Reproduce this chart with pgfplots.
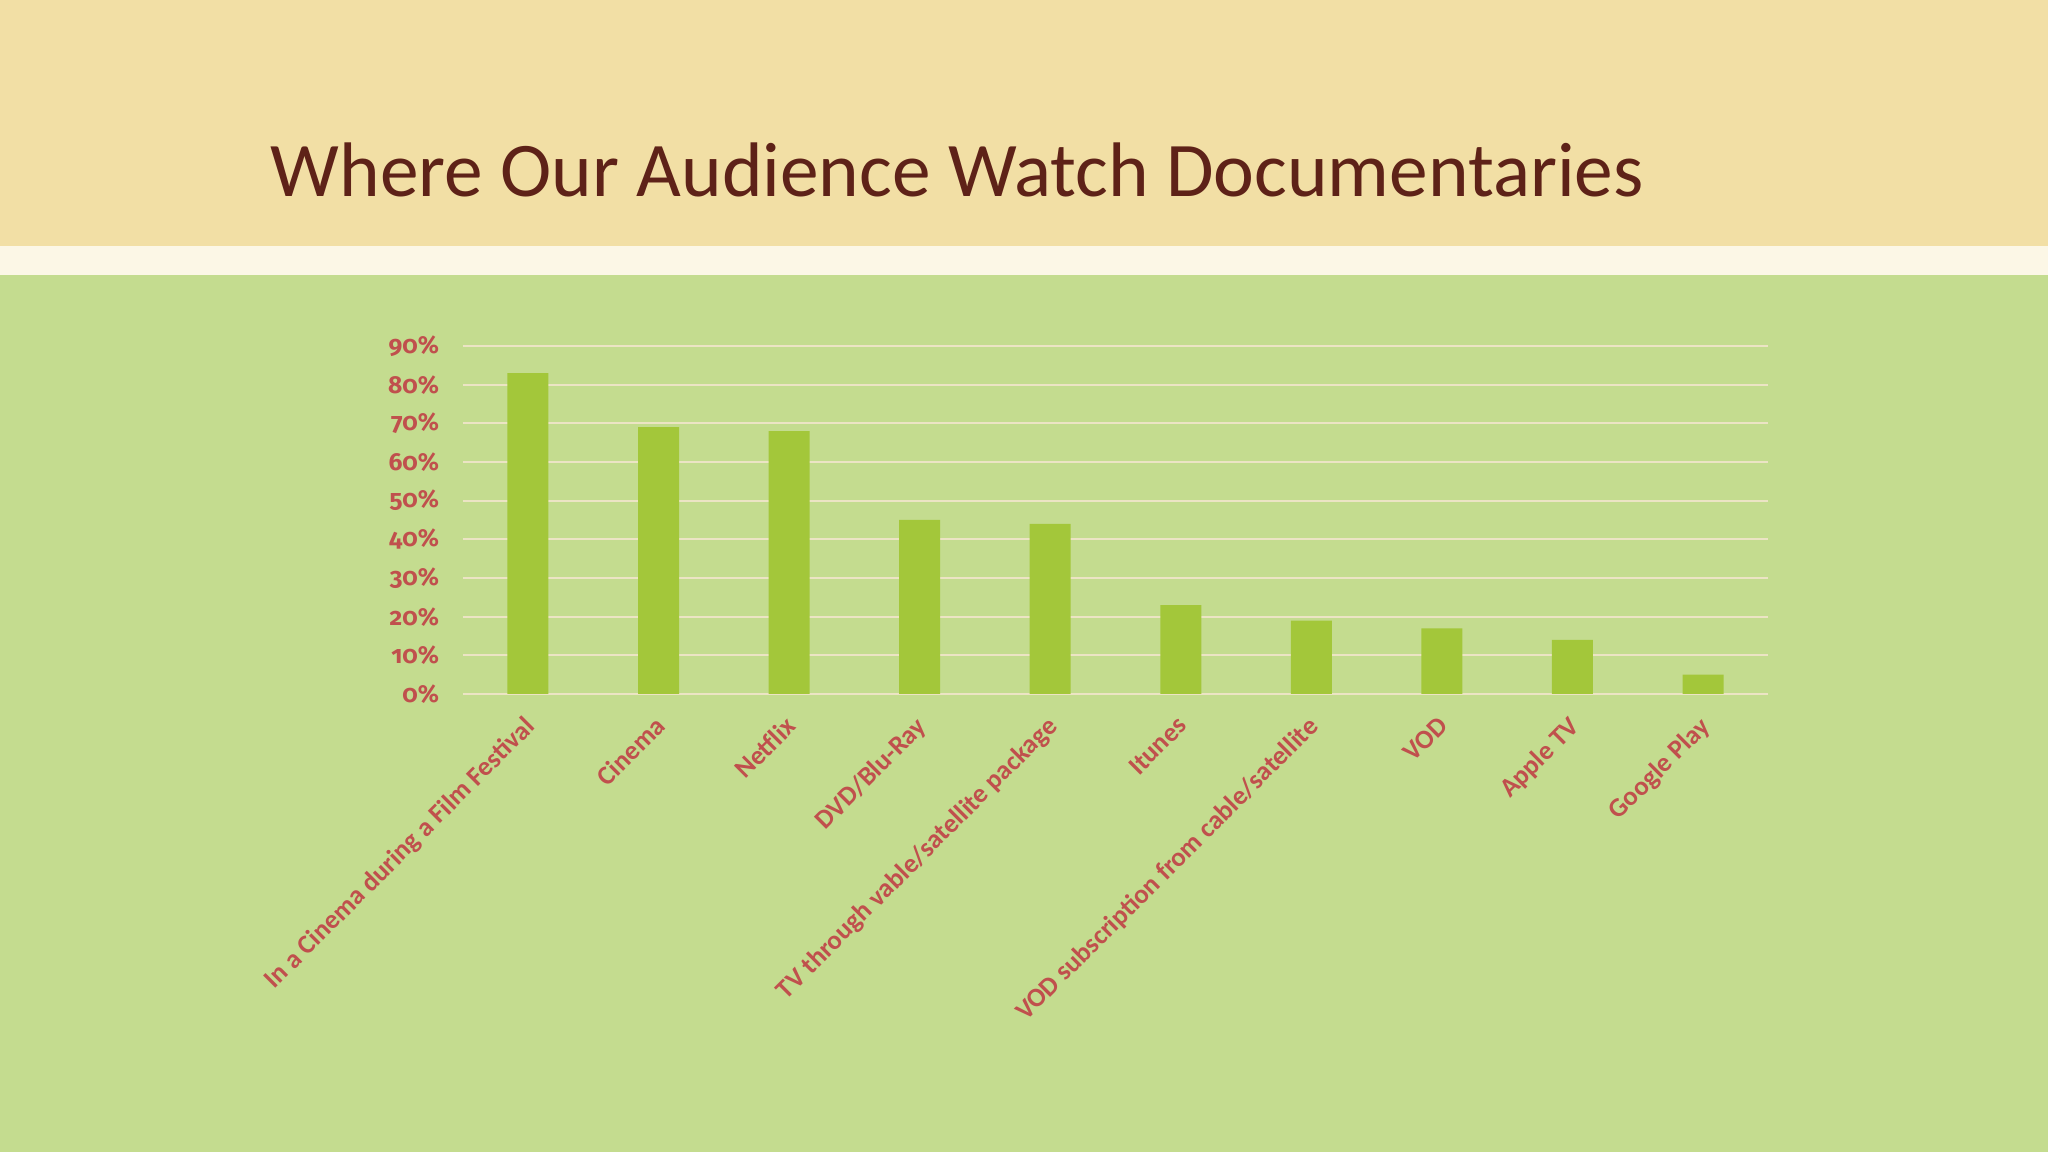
\documentclass[border=0pt]{standalone}
\usepackage{pgfplots}
\pgfplotsset{compat=1.18}
\usepackage{fontspec}
\setmainfont{Carlito}
\newfontfamily\numfont{Fira Sans}[Numbers=OldStyle]
\definecolor{bggreen}{RGB}{196,220,143}
\definecolor{bgbeige}{RGB}{242,223,165}
\definecolor{bgcream}{RGB}{252,247,230}
\definecolor{barcol}{RGB}{163,199,58}
\definecolor{labred}{RGB}{192,80,77}
\definecolor{titlecol}{RGB}{94,34,24}
\definecolor{gridcol}{RGB}{236,228,196}
\begin{document}
\begin{tikzpicture}
\useasboundingbox (0,0) rectangle (204.8mm,115.2mm);
\fill[bggreen] (0,0) rectangle (204.8mm,115.2mm);
\fill[bgcream] (0,87.7mm) rectangle (204.8mm,90.6mm);
\fill[bgbeige] (0,90.6mm) rectangle (204.8mm,115.2mm);
\node[anchor=base west, inner sep=0pt, text=titlecol, font=\fontsize{22}{26}\selectfont] at (27.0mm,95.5mm) {Where Our Audience Watch Documentaries};
\begin{axis}[
  at={(46.27mm,45.8mm)}, anchor=south west,
  scale only axis, width=130.56mm, height=34.8mm,
  xmin=-0.5, xmax=9.5, ymin=0, ymax=90,
  axis line style={draw=none},
  major tick length=0pt,
  ytick={0,10,...,90},
  ymajorgrids, major grid style={draw=gridcol, line width=0.6pt},
  /pgf/number format/assume math mode=true,
  yticklabel={\pgfmathprintnumber{\tick}\%},
  yticklabel style={font=\numfont\bfseries\fontsize{7}{9}\selectfont, text=labred, anchor=east, inner sep=0pt, xshift=-2.3mm},
  xtick={0,...,9},
  xticklabels={In a Cinema during a Film Festival, Cinema, Netflix, DVD/Blu-Ray, TV through vable/satellite package, Itunes, VOD subscription from cable/satellite, VOD, Apple TV, Google Play},
  xticklabel style={font=\bfseries\fontsize{7.6}{9}\selectfont, text=labred, xshift=-0.5mm, yshift=-2.0mm, rotate=45, anchor=north east, inner sep=0pt},
]
\addplot[ybar, bar width=4.1mm, fill=barcol, draw=none] coordinates {
 (0,83) (1,69) (2,68) (3,45) (4,44) (5,23) (6,19) (7,17) (8,14) (9,5)};
\end{axis}
\end{tikzpicture}
\end{document}
